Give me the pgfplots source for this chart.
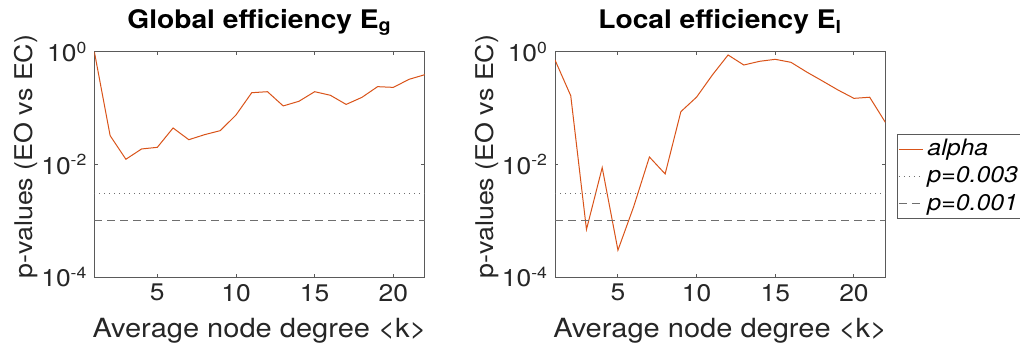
\documentclass[border=0pt]{standalone}
\usepackage{fontspec}
\setmainfont{TeX Gyre Heros}[FakeStretch=1.1]
\usepackage{pgfplots}
\pgfplotsset{compat=1.18}
\definecolor{morange}{RGB}{217,83,25}
\definecolor{axgray}{RGB}{90,90,90}
\definecolor{refgray}{RGB}{110,110,110}

\pgfplotstableread{
k p
1 1.0
2 0.0326
3 0.0124
4 0.0189
5 0.0202
6 0.0446
7 0.0276
8 0.0339
9 0.040
10 0.0759
11 0.189
12 0.197
13 0.110
14 0.133
15 0.197
16 0.170
17 0.117
18 0.156
19 0.242
20 0.235
21 0.327
22 0.395
}\globaltable

\pgfplotstableread{
k p
1 0.72
2 0.167
3 0.00070
4 0.0088
5 0.00030
6 0.00178
7 0.0136
8 0.0068
9 0.087
10 0.158
11 0.39
12 0.885
13 0.587
14 0.683
15 0.741
16 0.655
17 0.44
18 0.305
19 0.21
20 0.15
21 0.157
22 0.056
}\localtable

\newcommand{\tickfont}{\fontsize{12}{14}\selectfont}
\newcommand{\xlabfont}{\fontsize{13.2}{15}\selectfont}
\newcommand{\ylabfont}{\fontsize{12.2}{14}\selectfont}
\newcommand{\titfont}{\fontsize{12.8}{15}\selectfont\bfseries}

\pgfplotsset{
  every axis/.append style={
    scale only axis, width=165.2pt, height=112.5pt,
    xmin=1, xmax=22, ymin=1e-4, ymax=1,
    xtick={5,10,15,20},
    ytick={1e-4,1e-2,1},
    yticklabels={10\textsuperscript{-4},10\textsuperscript{-2},10\textsuperscript{0}},
    yminorticks=false,
    tick align=inside,
    major tick length=1.7pt,
    axis line style={axgray, line width=0.5pt},
    tick style={axgray, line width=0.5pt},
    xticklabel style={font=\tickfont, text=black!85},
    yticklabel style={font=\tickfont, text=black!85},
    xlabel={\xlabfont Average node degree <k>},
    ylabel={\ylabfont p-values (EO vs EC)},
    xlabel style={at={(axis description cs:0.5,-0.271)}, anchor=base, text=black!85},
    ylabel style={at={(axis description cs:-0.186,0.535)}, anchor=base, text=black!85},
    every axis title/.style={at={(axis description cs:0.5,1)}, anchor=base, yshift=11.8pt},
  },
  /pgf/number format/assume math mode=true,
}

\begin{document}
\begin{tikzpicture}
\useasboundingbox (0,0) rectangle (510pt,174.5pt);
\begin{semilogyaxis}[at={(47.2pt,36pt)}, anchor=south west,
  title={\titfont Global efficiency E\textsubscript{g}}]
  \addplot[morange, line width=0.5pt] table[x=k,y=p] {\globaltable};
  \addplot[refgray, dotted, line width=0.5pt] coordinates {(1,0.003) (22,0.003)};
  \addplot[refgray, dash pattern=on 4pt off 2.5pt, line width=0.5pt] coordinates {(1,0.001) (22,0.001)};
\end{semilogyaxis}
\begin{semilogyaxis}[at={(277.5pt,36pt)}, anchor=south west,
  title={\titfont Local efficiency E\textsubscript{l}},
  legend image code/.code={\draw[#1] (0pt,0pt) -- (12pt,0pt);},
  legend style={at={(1.035,0.6356)}, anchor=north west, draw=axgray, line width=0.5pt,
    font=\fontsize{11.3}{13}\selectfont\itshape,
    inner sep=0.5pt, row sep=0pt, nodes={inner sep=2pt}},
  legend cell align=left]
  \addplot[morange, line width=0.5pt] table[x=k,y=p] {\localtable};
  \addlegendentry{alpha}
  \addplot[refgray, dotted, line width=0.5pt] coordinates {(1,0.003) (22,0.003)};
  \addlegendentry{p=0.003}
  \addplot[refgray, dash pattern=on 4pt off 2.5pt, line width=0.5pt] coordinates {(1,0.001) (22,0.001)};
  \addlegendentry{p=0.001}
\end{semilogyaxis}
\end{tikzpicture}
\end{document}
